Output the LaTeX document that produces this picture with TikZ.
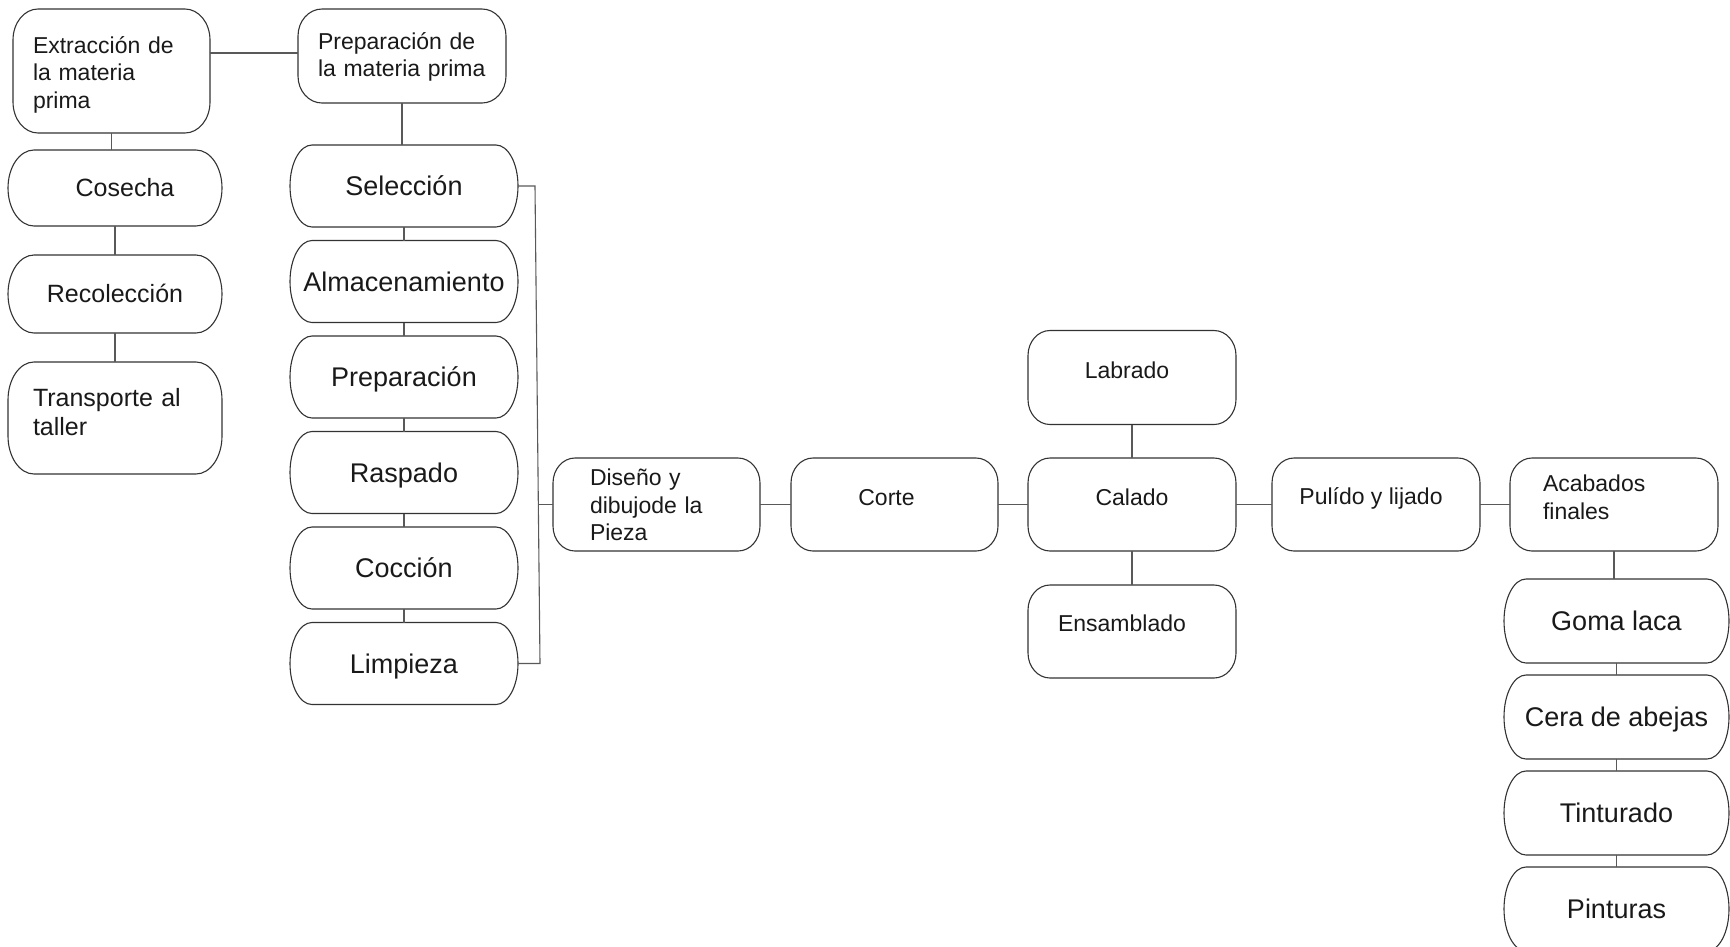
\documentclass[tikz,border=0pt]{standalone}
\usepackage{fontspec}
\setmainfont{Liberation Sans}
\usetikzlibrary{calc}
\newcommand\rrbox[3]{%
  \draw[outl] let \p1=(#1.north west), \p2=(#1.south east) in
    (\x1+#2,\y1) -- (\x2-#2,\y1)
    arc[start angle=90,end angle=0,x radius=#2,y radius=#3]
    -- (\x2,\y2+#3)
    arc[start angle=0,end angle=-90,x radius=#2,y radius=#3]
    -- (\x1+#2,\y2)
    arc[start angle=270,end angle=180,x radius=#2,y radius=#3]
    -- (\x1,\y1-#3)
    arc[start angle=180,end angle=90,x radius=#2,y radius=#3]
    -- cycle;}
\tikzset{
  outl/.style={draw=black!80, line width=1.1pt},
  conn/.style={draw=black!65, line width=1.1pt},
  bx/.style n args={2}{minimum width=#1, minimum height=#2, inner sep=0pt, outer sep=0pt, text=black!90},
  sm/.style={font=\fontsize{23}{27.5}\selectfont},
  smone/.style={sm, text height=16.8pt, text depth=#1},
  lg/.style={font=\fontsize{27}{31}\selectfont, text height=19.3pt, text depth=0pt},
  lgl/.style={font=\fontsize{25}{28.5}\selectfont, text height=17.9pt, text depth=0pt},
}
\begin{document}
\begin{tikzpicture}[x=1pt,y=-1pt]
\useasboundingbox (0,0) rectangle (1730,946);

% left column
\node[bx={197pt}{124pt}, sm, align=left, text width=157pt, text height=16.8pt, text depth=52pt] (ext) at (111.5,71) {Extracción de\\la materia\\prima};
\node[bx={214pt}{76pt}, lgl] (cos) at (115,188) {\hspace*{20pt}Cosecha};
\node[bx={214pt}{78pt}, lgl] (rec) at (115,294) {Recolección};
\node[bx={214pt}{112pt}, font=\fontsize{25}{28.5}\selectfont, text=black!90, align=left, text width=164pt, text height=18.3pt, text depth=41pt] (tra) at (115,418) {Transporte al\\taller};

% second column
\node[bx={208pt}{94pt}, sm, align=left, text width=168pt, text height=16.8pt, text depth=30pt] (prepmp) at (402,56) {Preparación de\\la materia prima};
\node[bx={228pt}{82pt}, lg] (sel) at (404,186) {Selección};
\node[bx={228pt}{82pt}, lg] (alm) at (404,281.5) {Almacenamiento};
\node[bx={228pt}{82pt}, lg] (pre) at (404,377) {Preparación};
\node[bx={228pt}{82pt}, lg] (ras) at (404,472.5) {Raspado};
\node[bx={228pt}{82pt}, lg] (coc) at (404,568) {Cocción};
\node[bx={228pt}{82pt}, lg] (lim) at (404,663.5) {Limpieza};

% main row
\node[bx={207pt}{93pt}, sm, align=left, text width=133pt, text height=16.8pt, text depth=54pt] (dis) at (656.5,504.5) {Diseño y\\dibujode la\\Pieza};
\node[bx={207pt}{93pt}, smone=15pt] (cor) at (894.5,504.5) {Corte\hspace*{16pt}};
\node[bx={208pt}{93pt}, smone=15pt] (cal) at (1132,504.5) {Calado};
\node[bx={208pt}{94pt}, smone=15pt] (lab) at (1132,377.5) {Labrado\hspace*{10pt}};
\node[bx={208pt}{93pt}, smone=17pt] (ens) at (1132,631.5) {Ensamblado\hspace*{20pt}};
\node[bx={208pt}{93pt}, smone=16pt] (pul) at (1376,504.5) {Pulído y lijado\hspace*{10pt}};
\node[bx={208pt}{93pt}, sm, align=left, text width=142pt, text height=16.8pt, text depth=42pt] (aca) at (1614,504.5) {Acabados\\finales};

% right column
\node[bx={225pt}{84pt}, lg] (gom) at (1616.5,621) {Goma laca};
\node[bx={225pt}{84pt}, lg] (cer) at (1616.5,717) {Cera de abejas};
\node[bx={225pt}{84pt}, lg] (tin) at (1616.5,813) {Tinturado};
\node[bx={225pt}{84pt}, lg] (pin) at (1616.5,909) {Pinturas};

% outlines
\rrbox{ext}{25pt}{31pt}
\rrbox{cos}{26pt}{38pt}
\rrbox{rec}{26pt}{39pt}
\rrbox{tra}{26pt}{38pt}
\rrbox{prepmp}{24pt}{27pt}
\foreach \bname in {sel,alm,pre,ras,coc,lim} {\rrbox{\bname}{22pt}{41pt}}
\foreach \bname in {dis,cor,cal,lab,ens,pul,aca} {\rrbox{\bname}{22pt}{25pt}}
\foreach \bname in {gom,cer,tin,pin} {\rrbox{\bname}{22pt}{42pt}}

% connectors
\draw[conn] ($(ext.east |- prepmp.west)+(0,-3)$) -- ($(prepmp.west)+(0,-3)$);
\draw[conn] (ext.south) -- (ext.south |- cos.north);
\draw[conn] (cos.south) -- (rec.north);
\draw[conn] (rec.south) -- (tra.north);
\draw[conn] (prepmp.south) -- (prepmp.south |- sel.north);
\draw[conn] (sel.south) -- (alm.north);
\draw[conn] (alm.south) -- (pre.north);
\draw[conn] (pre.south) -- (ras.north);
\draw[conn] (ras.south) -- (coc.north);
\draw[conn] (coc.south) -- (lim.north);
\coordinate (bt) at ($(sel.east)+(17,0)$);
\coordinate (bb) at ($(lim.east)+(22,0)$);
\coordinate (bm) at ($(dis.west)+(-15,0)$);
\draw[conn] (sel.east) -- (bt) -- (bb) -- (lim.east);
\draw[conn] (dis.west) -- (bm);
\draw[conn] (dis.east) -- (cor.west);
\draw[conn] (cor.east) -- (cal.west);
\draw[conn] (cal.east) -- (pul.west);
\draw[conn] (pul.east) -- (aca.west);
\draw[conn] (lab.south) -- (cal.north);
\draw[conn] (cal.south) -- (ens.north);
\draw[conn] (aca.south) -- (aca.south |- gom.north);
\draw[conn] (gom.south) -- (cer.north);
\draw[conn] (cer.south) -- (tin.north);
\draw[conn] (tin.south) -- (pin.north);
\end{tikzpicture}
\end{document}
